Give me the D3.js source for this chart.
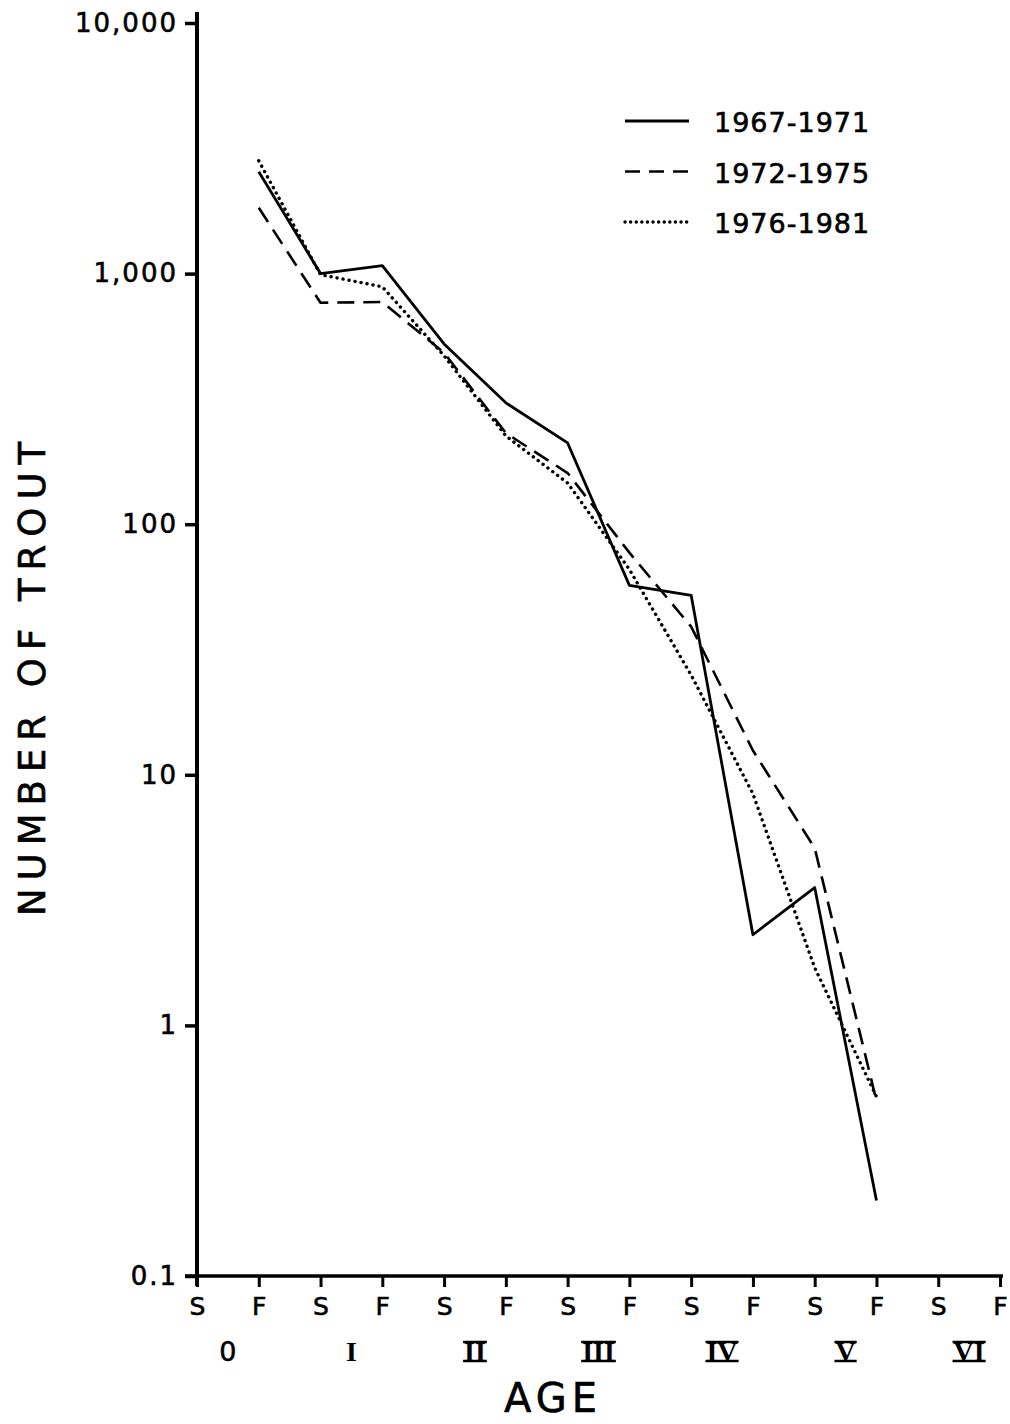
<!DOCTYPE html>
<html>
<head>
<meta charset="utf-8">
<script src="https://cdn.jsdelivr.net/npm/d3@7"></script>
<style>
  html, body { margin: 0; padding: 0; background: #fff; }
  svg { display: block; }
  text { fill: #000; }
</style>
</head>
<body>
<script>
// ---- data ----
const seasonLabels = ["S","F","S","F","S","F","S","F","S","F","S","F","S","F"];
const ageLabels = ["0","I","II","III","IV","V","VI"];
const yTickValues = [0.1, 1, 10, 100, 1000, 10000];
const yTickLabels = ["0.1", "1", "10", "100", "1,000", "10,000"];
const seriesNames = ["1967-1971", "1972-1975", "1976-1981"];
const pointIndex = [1, 2, 3, 4, 5, 6, 7, 8, 9, 10, 11];
const trout1967 = [2550, 1000, 1075, 524, 305, 211, 57, 52, 2.3, 3.55, 0.2];
const trout1972 = [1830, 765, 770, 483, 231, 160, 77, 39, 12.5, 5.1, 0.5];
const trout1976 = [2820, 990, 886, 470, 225, 146, 66, 25, 8.4, 1.7, 0.52];

const W = 1010, H = 1424;
const svg = d3.select("body").append("svg").attr("width", W).attr("height", H);

const x = d3.scaleLinear().domain([0, 13]).range([197, 1000]);
const y = d3.scaleLog().domain([0.1, 10000]).range([1276, 23]);

const font = "'DejaVu Sans', sans-serif";
const thick = t => t.attr("stroke", "#000").attr("stroke-width", 0.6);

// ---- y axis ----
const yAxis = d3.axisLeft(y).tickValues(yTickValues).tickSize(12).tickPadding(7)
  .tickFormat((d, i) => yTickLabels[i]);
const gy = svg.append("g").attr("transform", `translate(${x(0)},0)`).call(yAxis);
gy.select(".domain").remove();
gy.selectAll(".tick line").attr("stroke", "#000").attr("stroke-width", 3.5);
gy.selectAll(".tick text").attr("font-family", font).attr("font-size", 26)
  .attr("letter-spacing", 2).attr("fill", "#000").call(thick);
svg.append("line").attr("x1", x(0)).attr("x2", x(0)).attr("y1", 12).attr("y2", 1286)
  .attr("stroke", "#000").attr("stroke-width", 4);

// ---- x axis ----
const xAxis = d3.axisBottom(x).tickValues(d3.range(seasonLabels.length)).tickSize(11).tickPadding(10)
  .tickFormat((d, i) => seasonLabels[i]);
const gx = svg.append("g").attr("transform", `translate(0,${y(0.1)})`).call(xAxis);
gx.select(".domain").remove();
gx.selectAll(".tick line").attr("stroke", "#000").attr("stroke-width", 3);
gx.selectAll(".tick text").attr("font-family", font).attr("font-size", 25).attr("fill", "#000").call(thick);
svg.append("line").attr("x1", x(0) - 12).attr("x2", x(13) + 3).attr("y1", y(0.1)).attr("y2", y(0.1))
  .attr("stroke", "#000").attr("stroke-width", 3.5);

// age labels (roman numerals, centred between S and F)
const ageG = svg.append("g");
ageLabels.forEach((lab, i) => {
  const cx = (x(2 * i) + x(2 * i + 1)) / 2;
  const t = ageG.append("text").attr("x", cx).attr("y", 1361)
    .attr("text-anchor", "middle")
    .attr("font-family", i === 0 ? font : "'Liberation Serif', serif")
    .attr("font-weight", i === 0 ? "normal" : "bold")
    .attr("font-size", i === 0 ? 27 : 28)
    .text(lab);
  if (i === 0) t.call(thick);
  if (i >= 2) {
    const bb = t.node().getBBox();
    const top = 1342, bot = 1361;
    [top, bot].forEach(yy => ageG.append("line")
      .attr("x1", bb.x - 1).attr("x2", bb.x + bb.width + 1)
      .attr("y1", yy).attr("y2", yy).attr("stroke", "#000").attr("stroke-width", 2.5));
  }
});

// axis titles
svg.append("text").attr("x", 553).attr("y", 1412).attr("text-anchor", "middle")
  .attr("font-family", font).attr("font-size", 40).attr("letter-spacing", 5).text("AGE").call(thick);
svg.append("text").attr("transform", "translate(45,675) rotate(-90)").attr("text-anchor", "middle")
  .attr("font-family", font).attr("font-size", 37).attr("letter-spacing", 8).text("NUMBER OF TROUT").call(thick);

// ---- lines ----
const line = d3.line().x(d => x(d[0])).y(d => y(d[1]));
const styles = [
  { dash: null, width: 2.8, cap: "butt" },
  { dash: "17,9", width: 2.6, cap: "butt" },
  { dash: "0.1,6", width: 3.4, cap: "round" }
];
const allSeries = [trout1967, trout1972, trout1976];
allSeries.forEach((vals, k) => {
  const pts = pointIndex.map((xi, i) => [xi, vals[i]]);
  const p = svg.append("path").datum(pts).attr("d", line)
    .attr("fill", "none").attr("stroke", "#000")
    .attr("stroke-width", styles[k].width).attr("stroke-linecap", styles[k].cap)
    .attr("stroke-linejoin", "round");
  if (styles[k].dash) p.attr("stroke-dasharray", styles[k].dash);
});

// ---- legend ----
const leg = svg.append("g");
seriesNames.forEach((name, k) => {
  const ly = 121 + k * 50.5;
  const l = leg.append("line").attr("x1", 625).attr("x2", 689).attr("y1", ly).attr("y2", ly)
    .attr("stroke", "#000").attr("stroke-width", styles[k].width).attr("stroke-linecap", styles[k].cap);
  if (styles[k].dash) l.attr("stroke-dasharray", k === 1 ? "15,9" : "0.1,5.5");
  leg.append("text").attr("x", 714).attr("y", ly + 11).attr("font-family", font)
    .attr("font-size", 27).attr("letter-spacing", 1).text(name).call(thick);
});
</script>
</body>
</html>
